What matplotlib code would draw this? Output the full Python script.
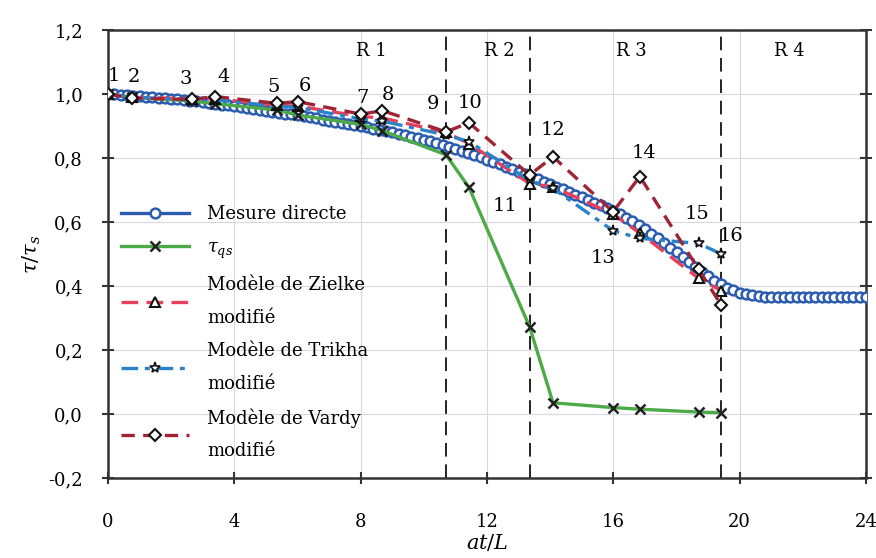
import numpy as np
import matplotlib
matplotlib.use('Agg')
import matplotlib.pyplot as plt

plt.rcParams['font.family'] = ['DejaVu Serif']
plt.rcParams['mathtext.fontset'] = 'dejavuserif'

# Mesure directe (dense measured curve, step 0.2)
x_mes = np.round(np.arange(0, 24.01, 0.2), 2)
y_mes = [1.000, 0.999, 0.997, 0.996, 0.994, 0.993, 0.991, 0.990, 0.988, 0.987,
         0.985, 0.983, 0.981, 0.979, 0.977, 0.975, 0.972, 0.970, 0.967, 0.965,
         0.962, 0.959, 0.956, 0.954, 0.951, 0.948, 0.945, 0.942, 0.939, 0.936,
         0.933, 0.930, 0.927, 0.924, 0.920, 0.917, 0.914, 0.910, 0.907, 0.903,
         0.900, 0.896, 0.892, 0.888, 0.884, 0.880, 0.875, 0.871, 0.866, 0.862,
         0.857, 0.852, 0.846, 0.841, 0.835, 0.829, 0.822, 0.815, 0.809, 0.802,
         0.795, 0.788, 0.780, 0.772, 0.765, 0.757, 0.749, 0.741, 0.733, 0.726,
         0.718, 0.710, 0.702, 0.694, 0.685, 0.677, 0.669, 0.660, 0.652, 0.643,
         0.635, 0.625, 0.614, 0.602, 0.590, 0.577, 0.563, 0.549, 0.535, 0.520,
         0.505, 0.490, 0.475, 0.460, 0.445, 0.430, 0.417, 0.405, 0.395, 0.386,
         0.379, 0.374, 0.371, 0.369, 0.367, 0.366, 0.366, 0.365, 0.365, 0.365,
         0.365, 0.365, 0.365, 0.365, 0.365, 0.365, 0.365, 0.365, 0.365, 0.365,
         0.365]

# numbered points 1..16
x_pts = [0, 0.76, 2.65, 3.39, 5.34, 6.02, 8.01, 8.69, 10.7, 11.43,
         13.35, 14.09, 15.99, 16.84, 18.7, 19.42]
pt_labels = [str(i) for i in range(1, 17)]
y_qs = [1.0, 0.99, 0.978, 0.97, 0.95, 0.934, 0.905, 0.885, 0.81, 0.708,
        0.272, 0.035, 0.02, 0.015, 0.006, 0.004]
y_zielke = [1.0, 0.99, 0.985, 0.985, 0.965, 0.962, 0.93, 0.925, 0.88, 0.845,
            0.72, 0.71, 0.625, 0.565, 0.424, 0.385]
y_trikha = [1.0, 0.99, 0.982, 0.982, 0.962, 0.958, 0.922, 0.915, 0.872, 0.851,
            0.73, 0.705, 0.573, 0.549, 0.533, 0.50]
y_vardy = [1.0, 0.987, 0.983, 0.992, 0.971, 0.976, 0.937, 0.948, 0.882, 0.91,
           0.747, 0.804, 0.632, 0.742, 0.452, 0.34]

# regime boundaries sit on points 9, 11 and 16
bound_idx = [8, 10, 15]
region_names = ['R 1', 'R 2', 'R 3', 'R 4']
region_x = [8.34, 12.4, 16.57, 21.58]

# label offsets (points) relative to the Vardy markers
lab_off = [(4, 13), (1, 15), (-4, 15), (6, 14), (-2, 12), (5, 11), (1, 12), (4, 11),
           (-9, 20), (1, 14), (-18, -22), (0, 19), (-7, -33), (3, 17), (-1, 40), (7, 50)]

fig = plt.figure(figsize=(8.76, 5.58), dpi=100)
ax = fig.add_axes([0.1233, 0.1434, 0.8653, 0.8028])

ax.plot(x_mes, y_mes, color='#2c5cb0', lw=2.4, marker='o', ms=7, mfc='white',
        mec='#2c5cb0', mew=1.8, label='Mesure directe', zorder=3)
ax.plot(x_pts, y_qs, color='#4caa48', lw=2.4, marker='x', ms=7, mec='#222222',
        mew=1.8, label=r'$\tau_{qs}$', zorder=4)
ax.plot(x_pts, y_zielke, color='#e8405a', lw=2.4, ls=(0, (5, 2.5)), marker='^', ms=7,
        mfc='white', mec='#111111', mew=1.5, label='Modèle de Zielke\nmodifié', zorder=5)
ax.plot(x_pts, y_trikha, color='#2a82c8', lw=2.4, ls=(0, (5, 2, 1.5, 2)), marker='*', ms=8,
        mfc='white', mec='#111111', mew=1.2, label='Modèle de Trikha\nmodifié', zorder=6)
ax.plot(x_pts, y_vardy, color='#9e2436', lw=2.4, ls=(0, (4, 2.5)), marker='D', ms=6.5,
        mfc='white', mec='#111111', mew=1.5, label='Modèle de Vardy\nmodifié', zorder=7)

for i in bound_idx:
    ax.axvline(x_pts[i], color='#222222', lw=1.4, ls=(0, (7, 4)), zorder=2)

for name, xr in zip(region_names, region_x):
    ax.text(xr, 1.134, name, ha='center', va='center', fontsize=13)

for i, lab in enumerate(pt_labels):
    ax.annotate(lab, (x_pts[i], y_vardy[i]), xytext=lab_off[i], textcoords='offset points',
                ha='center', va='center', fontsize=14, zorder=8)

ax.set_xlim(0, 24)
ax.set_ylim(-0.2, 1.2)
ax.set_xticks(np.arange(0, 25, 4))
yt = np.round(np.arange(-0.2, 1.21, 0.2), 1)
ax.set_yticks(yt)
ax.set_yticklabels([f'{v:.1f}'.replace('.', ',') for v in yt])
ax.grid(True, color='#d8d8e0', lw=0.8)
ax.set_axisbelow(True)
ax.tick_params(axis='both', direction='inout', length=8, width=1.5, labelsize=13,
               color='#333333', right=True)
ax.tick_params(axis='x', pad=21)
ax.tick_params(axis='y', pad=14)
for s in ax.spines.values():
    s.set_color('#333333')
    s.set_linewidth(1.8)

ax.set_xlabel(r'$at/L$', fontsize=15, labelpad=1)
ax.set_ylabel(r'$\tau/\tau_s$', fontsize=15, labelpad=4)

leg = ax.legend(loc='upper left', bbox_to_anchor=(0.0, 0.637), frameon=False, fontsize=13,
                handlelength=3.8, labelspacing=0.85, borderaxespad=0.3, handletextpad=1.0)
for t in leg.get_texts():
    t.set_linespacing(2.05)

fig.savefig('out.png', dpi=100)
